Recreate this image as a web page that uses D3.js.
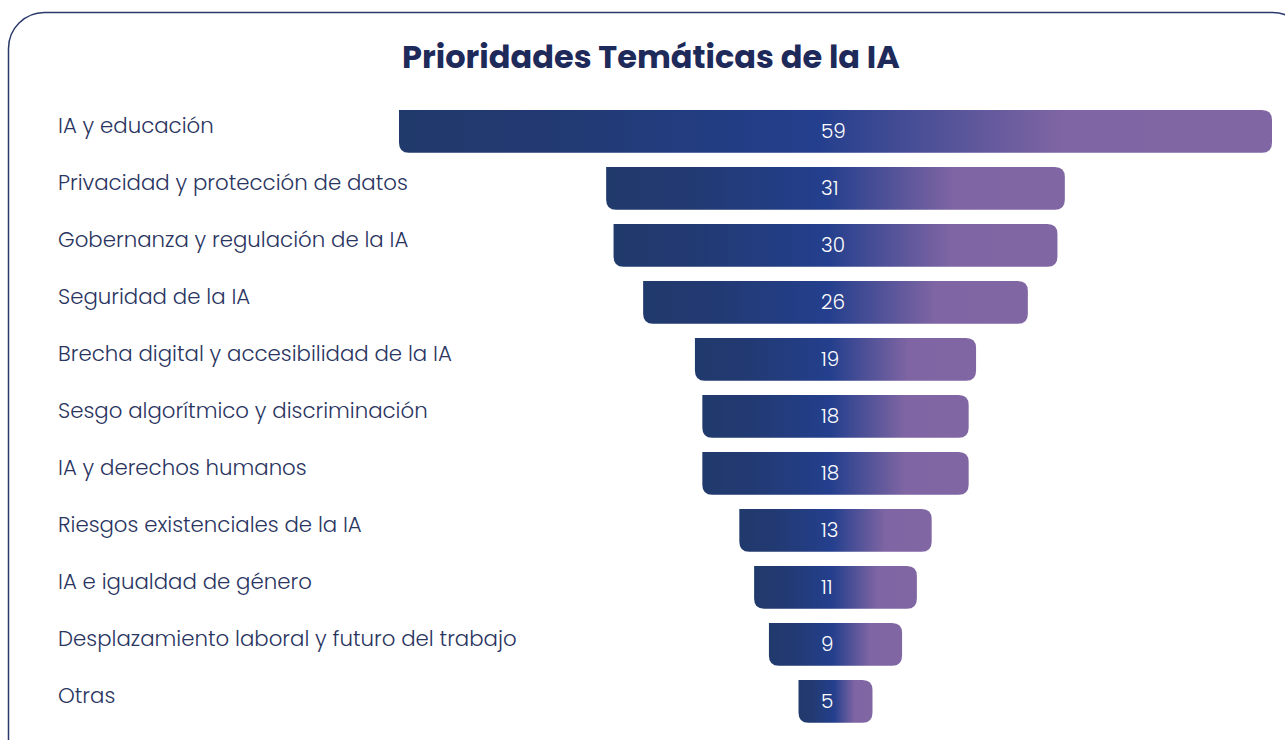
<!DOCTYPE html>
<html>
<head>
<meta charset="utf-8">
<script src="https://cdn.jsdelivr.net/npm/d3@7"></script>
<style>
  body { margin: 0; background: #ffffff; }
  svg { display: block; }
</style>
</head>
<body>
<div class="chart"></div>
<script>
//The data
var categories = [
  "IA y educación",
  "Privacidad y protección de datos",
  "Gobernanza y regulación de la IA",
  "Seguridad de la IA",
  "Brecha digital y accesibilidad de la IA",
  "Sesgo algorítmico y discriminación",
  "IA y derechos humanos",
  "Riesgos existenciales de la IA",
  "IA e igualdad de género",
  "Desplazamiento laboral y futuro del trabajo",
  "Otras"
];
var values = [59, 31, 30, 26, 19, 18, 18, 13, 11, 9, 5];
var title = "Prioridades Temáticas de la IA";

function funnelChart(){
  var w = 1285;
  var h = 740;
  var cx = 835.5; //The middle of the funnel
  var r = 10;     //Corner radius of the bars

  var svg = d3.select(".chart")
              .append("svg")
              .attr("width", w)
              .attr("height", h);

  //Gradient along every bar, dark navy to purple
  var grad = svg.append("defs")
                .append("linearGradient")
                .attr("id", "barGrad")
                .attr("x1", "0%").attr("x2", "100%")
                .attr("y1", "0%").attr("y2", "0%");
  grad.append("stop").attr("offset", "0%").attr("stop-color", "#213a6c");
  grad.append("stop").attr("offset", "18%").attr("stop-color", "#223a72");
  grad.append("stop").attr("offset", "48%").attr("stop-color", "#243f8d");
  grad.append("stop").attr("offset", "76%").attr("stop-color", "#7f65a3");
  grad.append("stop").attr("offset", "100%").attr("stop-color", "#8066a3");

  //The card outline
  svg.append("rect")
      .attr("x", 8.5)
      .attr("y", 12.5)
      .attr("width", 1300)
      .attr("height", 780)
      .attr("rx", 36)
      .attr("fill", "none")
      .attr("stroke", "#2b3a6b")
      .attr("stroke-width", 1.5);

  //Title
  svg.append("text")
      .attr("x", 651)
      .attr("y", 68)
      .attr("text-anchor", "middle")
      .style("font-family", "Poppins, 'Noto Sans', sans-serif")
      .style("font-weight", "bold")
      .style("font-size", "32px")
      .attr("fill", "#1e2a5a")
      .text(title);

  //Scales
  var width = d3.scaleLinear()
                .domain([0, 59])
                .range([0, 873]);

  var y = d3.scaleBand()
            .domain(categories)
            .range([110, 722.75])
            .paddingInner(0.25)
            .paddingOuter(0);

  //Bar shape: square top-left corner, the rest rounded
  function barPath(x0, y0, bw, bh){
    var rr = Math.min(r, bw / 2, bh / 2);
    return "M" + x0 + "," + y0 +
           "H" + (x0 + bw - rr) +
           "Q" + (x0 + bw) + "," + y0 + " " + (x0 + bw) + "," + (y0 + rr) +
           "V" + (y0 + bh - rr) +
           "Q" + (x0 + bw) + "," + (y0 + bh) + " " + (x0 + bw - rr) + "," + (y0 + bh) +
           "H" + (x0 + rr) +
           "Q" + x0 + "," + (y0 + bh) + " " + x0 + "," + (y0 + bh - rr) +
           "Z";
  }

  var rows = categories.map(function(c, i){
    return {cat: c, value: values[i]};
  });

  svg.selectAll("path.bar")
      .data(rows)
      .enter()
      .append("path")
      .attr("class", "bar")
      .attr("fill", "url(#barGrad)")
      .attr("d", function(d){
        var bw = width(d.value);
        return barPath(cx - bw / 2, y(d.cat), bw, y.bandwidth());
      });

  //Values inside the bars (they start at the same x, not centred)
  svg.selectAll("text.value")
      .data(rows)
      .enter()
      .append("text")
      .attr("class", "value")
      .attr("x", 821)
      .attr("y", function(d){ return y(d.cat) + y.bandwidth() / 2 + 7; })
      .style("font-family", "Poppins, 'Noto Sans', sans-serif")
      .style("font-weight", 300)
      .style("font-size", "20px")
      .attr("fill", "#ffffff")
      .text(function(d){ return d.value; });

  //Category labels on the left
  svg.selectAll("text.label")
      .data(rows)
      .enter()
      .append("text")
      .attr("class", "label")
      .attr("x", 58)
      .attr("y", function(d){ return y(d.cat) + y.bandwidth() / 2 + 2; })
      .style("font-family", "Poppins, 'Noto Sans', sans-serif")
      .style("font-weight", 300)
      .style("font-size", "21.3px")
      .attr("fill", "#2a355f")
      .text(function(d){ return d.cat; });
}

window.onload = funnelChart;
</script>
</body>
</html>
